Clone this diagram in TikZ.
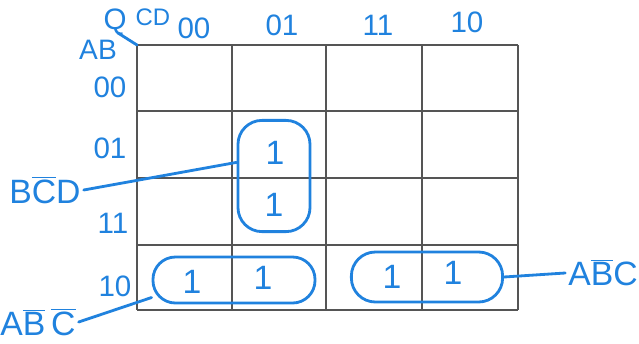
\documentclass[tikz,border=0pt]{standalone}
\usepackage{fontspec}
\setmainfont{Liberation Sans}
\usetikzlibrary{positioning,calc}
\definecolor{pen}{RGB}{32,130,222}
\definecolor{rule}{RGB}{85,85,85}
\begin{document}
\begin{tikzpicture}[
  x=.025cm,y=-.025cm,
  font=\fontsize{21}{25}\selectfont,
  cellgrid/.style={rule,line width=1.1pt},
  ink/.style={pen,line width=2pt,line cap=round,line join=round},
  inktext/.style={text=pen,inner sep=1pt},
  term/.style={text=pen,inner sep=2pt,font=\fontsize{24}{28}\selectfont},
  one/.style={text=pen,inner sep=0pt,font=\fontsize{24}{28}\selectfont},
  loopbox/.style={draw=pen,line width=2pt,rounded corners=.5cm,inner sep=0pt}
]
\useasboundingbox (0,0) rectangle (639,343);
\foreach \gx in {137,232,326,422,518} \draw[cellgrid] (\gx,45) -- (\gx,310);
\foreach \gy in {45,111,178,245,310} \draw[cellgrid] (137,\gy) -- (518,\gy);
\node[inktext] (outq) at (115,22) {Q};
\node[inktext,font=\fontsize{17}{20}\selectfont] (cdvar) at (153,17) {CD};
\node[inktext,font=\fontsize{20}{24}\selectfont] (abvar) at (98,50) {AB};
\coordinate (kcorner) at (137,45);
\coordinate (kslash) at (118,33);
\draw[ink] (kcorner) -- (kslash);
\node[inktext] (cd00) at (194,28) {00};
\node[inktext] (cd01) at (282,25) {01};
\node[inktext] (cd11) at (378,25) {11};
\node[inktext] (cd10) at (467,22) {10};
\node[inktext] (ab00) at (110,87) {00};
\node[inktext] (ab01) at (110,148) {01};
\node[inktext] (ab11) at (113,223) {11};
\node[inktext] (ab10) at (115,286) {10};
\node[one] (m5) at (275,153) {1};
\node[one] (m7) at (274,205) {1};
\node[one] (m8) at (192,282) {1};
\node[one] (m9) at (263,278) {1};
\node[one] (m11) at (392,277) {1};
\node[one] (m10) at (453,273) {1};
\node[loopbox,rounded corners=.6cm,minimum width=1.8cm,minimum height=2.78cm] (bcdloop) at (274,176) {};
\node[loopbox,rounded corners=.56cm,minimum width=4.05cm,minimum height=1.15cm] (abcbarloop) at (234,280) {};
\node[loopbox,rounded corners=.6cm,minimum width=3.78cm,minimum height=1.25cm] (abcloop) at (427,277) {};
\node[term] (bcd) at (45,190) {B$\overline{\mbox{C}}$D};
\node[term] (abcbar) at (38,322) {A$\overline{\mbox{B}}\,\overline{\mbox{C}}$};
\node[term] (abc) at (603,273) {A$\overline{\mbox{B}}$C};
\draw[ink] (bcd.east) -- (bcdloop.160);
\draw[ink] (abcbar.east) -- (abcbarloop.192);
\draw[ink] (abcloop.east) -- (abc.west);
\end{tikzpicture}
\end{document}
